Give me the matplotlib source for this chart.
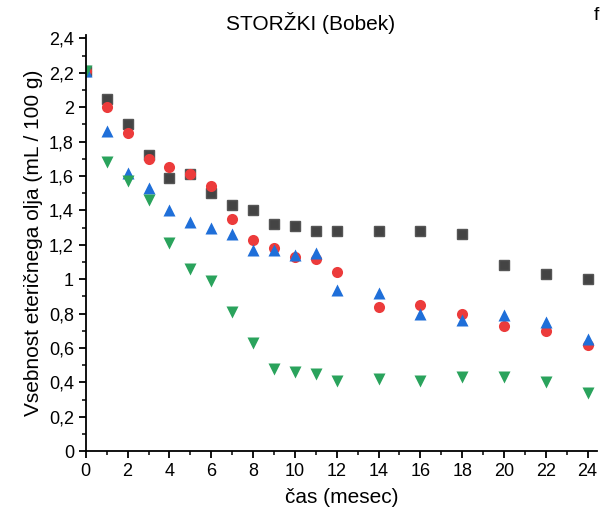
import matplotlib.pyplot as plt
from matplotlib.ticker import MultipleLocator, FuncFormatter

plt.rcParams['font.family'] = ['Liberation Sans', 'DejaVu Sans']

cas = [0, 1, 2, 3, 4, 5, 6, 7, 8, 9, 10, 11, 12, 14, 16, 18, 20, 22, 24]

# stiri serije (kvadrati, krogi, trikotniki gor, trikotniki dol)
kvadrati = [2.21, 2.05, 1.90, 1.72, 1.59, 1.61, 1.50, 1.43, 1.40, 1.32, 1.31, 1.28,
            1.28, 1.28, 1.28, 1.26, 1.08, 1.03, 1.00]
krogi = [2.21, 2.00, 1.85, 1.70, 1.65, 1.61, 1.54, 1.35, 1.23, 1.18, 1.13, 1.12,
         1.04, 0.84, 0.85, 0.80, 0.73, 0.70, 0.62]
gor = [2.21, 1.86, 1.62, 1.53, 1.40, 1.33, 1.30, 1.26, 1.17, 1.17, 1.14, 1.15,
       0.94, 0.92, 0.80, 0.76, 0.79, 0.75, 0.65]
dol = [2.21, 1.68, 1.57, 1.46, 1.21, 1.06, 0.99, 0.81, 0.63, 0.48, 0.46, 0.45,
       0.41, 0.42, 0.41, 0.43, 0.43, 0.40, 0.34]

fig = plt.figure(figsize=(6, 5.15), dpi=100)
ax = fig.add_axes([0.143, 0.124, 0.852, 0.808])

ax.plot(cas, kvadrati, 's', color='#444444', ms=7, mec='#555555', ls='none')
ax.plot(cas, krogi, 'o', color='#ec3b3b', ms=8, mec='none', ls='none')
ax.plot(cas, gor, '^', color='#1f6fd9', ms=8.5, mec='none', ls='none')
ax.plot(cas, dol, 'v', color='#2aa35c', ms=8.5, mec='none', ls='none')

ax.set_xlim(0, 24.45)
ax.set_ylim(0, 2.42)
ax.xaxis.set_major_locator(MultipleLocator(2))
ax.xaxis.set_minor_locator(MultipleLocator(1))
ax.yaxis.set_major_locator(MultipleLocator(0.2))
ax.yaxis.set_minor_locator(MultipleLocator(0.1))
ax.yaxis.set_major_formatter(FuncFormatter(
    lambda v, p: '0' if abs(v) < 1e-9 else ('%g' % round(v, 1)).replace('.', ',')))

for s in ['top', 'right']:
    ax.spines[s].set_visible(False)
for s in ['left', 'bottom']:
    ax.spines[s].set_linewidth(1.3)
ax.tick_params(which='major', direction='out', length=5, width=1.3, labelsize=13)
ax.tick_params(which='minor', direction='out', length=3, width=1.1)

ax.set_xlabel('čas (mesec)', fontsize=15, labelpad=6)
ax.set_ylabel('Vsebnost eteričnega olja (mL / 100 g)', fontsize=15, labelpad=4)
fig.text(0.517, 0.955, 'STORŽKI (Bobek)', fontsize=15, ha='center', va='center')

fig.text(0.99, 0.97, 'f', fontsize=14, ha='left', va='center')

fig.savefig('out.png', dpi=100)
